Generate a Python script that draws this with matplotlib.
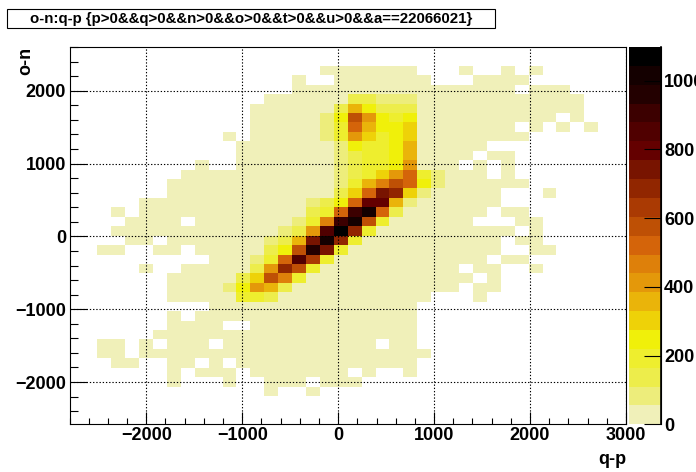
#!/usr/bin/env python3
import numpy as np
import matplotlib
matplotlib.use('Agg')
import matplotlib.pyplot as plt
from matplotlib.colors import ListedColormap, BoundaryNorm
from matplotlib.patches import Rectangle
from matplotlib.ticker import MultipleLocator, FixedLocator

plt.rcParams['font.family'] = ['Liberation Sans', 'DejaVu Sans']
plt.rcParams['font.weight'] = 'bold'

W, H = 696, 472

title = 'o-n:q-p {p>0&&q>0&&n>0&&o>0&&t>0&&u>0&&a==22066021}'
x_range = [-2800, 3000]
y_range = [-2580, 2600]
n_bins = 40
z_max = 1098
n_levels = 20
x_ticks = [-2000, -1000, 0, 1000, 2000, 3000]
y_ticks = [-2000, -1000, 0, 1000, 2000]
z_ticks = [0, 200, 400, 600, 800, 1000]

counts_top_down = [
 [0,0,0,0,0,0,0,0,0,0, 0,0,0,0,0,0,0,0,0,0, 0,0,0,0,0,0,0,0,0,0, 0,0,0,0,0,0,0,0,0,0],
 [0,0,0,0,0,0,0,0,0,0, 0,0,0,0,0,0,0,0,0,0, 0,0,0,0,0,0,0,0,0,0, 0,0,0,0,0,0,0,0,0,0],
 [0,0,0,0,0,0,0,0,0,0, 0,0,0,0,0,0,0,0,25,25, 25,25,25,25,25,0,0,0,25,0, 0,25,0,25,0,0,0,0,0,0],
 [0,0,0,0,0,0,0,0,0,0, 0,0,0,0,0,0,25,0,0,25, 25,25,25,25,25,25,0,0,0,25, 25,25,25,0,0,0,0,0,0,0],
 [0,0,0,0,0,0,0,0,0,0, 0,0,0,0,0,0,25,25,25,25, 25,25,25,25,25,25,25,25,25,25, 25,25,0,25,25,25,0,0,0,0],
 [0,0,0,0,0,0,0,0,0,0, 0,0,0,0,25,25,25,25,25,25, 137,137,82,82,82,25,25,25,25,25, 25,25,25,25,25,25,25,0,0,0],
 [0,0,0,0,0,0,0,0,0,0, 0,0,0,25,25,25,25,25,25,137, 357,247,137,137,137,25,25,25,25,25, 25,25,25,25,25,25,25,0,0,0],
 [0,0,0,0,0,0,0,0,0,0, 0,0,0,25,25,25,25,25,82,247, 576,412,247,192,247,25,25,25,25,25, 25,25,25,25,25,0,25,0,0,0],
 [0,0,0,0,0,0,0,0,0,0, 0,0,0,25,25,25,25,25,82,192, 522,357,247,247,302,25,25,25,25,25, 25,25,0,25,0,25,0,25,0,0],
 [0,0,0,0,0,0,0,0,0,0, 0,25,0,25,25,25,25,25,82,192, 412,302,192,247,302,25,25,25,25,25, 25,25,25,0,0,0,0,0,0,0],
 [0,0,0,0,0,0,0,0,0,0, 0,0,25,25,25,25,25,25,25,82, 247,192,192,247,357,25,25,25,25,25, 0,0,0,0,0,0,0,0,0,0],
 [0,0,0,0,0,0,0,0,0,0, 0,0,25,25,25,25,25,25,25,82, 137,192,192,247,357,25,25,25,25,0, 25,25,0,0,0,0,0,0,0,0],
 [0,0,0,0,0,0,0,0,0,25, 0,0,25,25,25,25,25,25,25,82, 137,192,192,247,412,25,25,25,0,25, 0,25,0,0,0,0,0,0,0,0],
 [0,0,0,0,0,0,0,0,25,25, 25,25,25,25,25,25,25,25,25,82, 137,192,302,412,522,192,82,25,25,25, 0,25,0,0,0,0,0,0,0,0],
 [0,0,0,0,0,0,0,25,25,25, 25,25,25,25,25,25,25,25,25,82, 192,357,467,576,522,247,82,25,25,25, 25,25,25,0,0,0,0,0,0,0],
 [0,0,0,0,0,0,0,25,25,25, 25,25,25,25,25,25,25,25,25,137, 302,522,741,686,302,82,25,25,25,25, 25,0,0,0,25,0,0,0,0,0],
 [0,0,0,0,0,25,25,25,25,25, 25,25,25,25,25,25,25,82,137,247, 522,796,796,357,82,25,25,25,25,25, 25,0,0,0,0,0,0,0,0,0],
 [0,0,0,25,0,25,25,25,25,25, 25,25,25,25,25,25,25,137,192,522, 906,1016,522,137,25,25,25,25,25,25, 0,25,25,0,0,0,0,0,0,0],
 [0,0,0,0,25,25,25,25,0,25, 25,25,25,25,25,25,82,192,467,906, 1016,576,192,25,25,25,25,25,25,0, 0,0,25,25,0,0,0,0,0,0],
 [0,0,0,25,25,25,25,25,25,25, 25,25,25,25,25,82,137,412,851,1071, 686,192,25,25,25,25,25,25,25,25, 25,25,0,25,0,0,0,0,0,0],
 [0,0,0,0,25,25,0,25,25,25, 25,25,25,25,82,137,357,741,1016,686, 192,25,25,25,25,25,25,25,25,25, 25,0,25,25,0,0,0,0,0,0],
 [0,0,25,25,0,0,25,25,0,25, 25,25,25,25,137,247,576,961,741,192, 25,25,25,25,25,25,25,25,25,25, 25,0,0,25,25,0,0,0,0,0],
 [0,0,0,0,0,0,0,0,0,0, 25,25,25,82,192,522,851,631,192,25, 25,25,25,25,25,25,25,25,25,25, 0,25,25,0,0,0,0,0,0,0],
 [0,0,0,0,0,25,0,0,25,25, 25,25,25,137,412,686,576,192,25,25, 25,25,25,25,25,25,25,25,0,25, 25,0,0,25,0,0,0,0,0,0],
 [0,0,0,0,0,0,0,25,25,25, 25,25,137,302,576,467,192,25,25,25, 25,25,25,25,25,25,25,25,25,0, 25,0,0,0,0,0,0,0,0,0],
 [0,0,0,0,0,0,0,25,25,25, 25,82,247,412,357,137,25,25,25,25, 25,25,25,25,25,25,25,25,0,25, 25,0,0,0,0,0,0,0,0,0],
 [0,0,0,0,0,0,0,25,25,25, 25,25,192,192,137,25,25,25,25,25, 25,25,25,25,25,25,0,0,0,25, 0,0,0,0,0,0,0,0,0,0],
 [0,0,0,0,0,0,0,0,0,0, 25,25,25,25,25,25,25,25,25,25, 25,25,25,25,25,0,0,0,0,0, 0,0,0,0,0,0,0,0,0,0],
 [0,0,0,0,0,0,0,25,0,25, 25,25,25,25,25,25,25,25,25,25, 25,25,25,25,25,0,0,0,0,0, 0,0,0,0,0,0,0,0,0,0],
 [0,0,0,0,0,0,0,25,25,25, 25,0,0,25,25,25,25,25,25,25, 25,25,25,25,25,0,0,0,0,0, 0,0,0,0,0,0,0,0,0,0],
 [0,0,0,0,0,0,25,25,25,25, 25,25,25,25,25,25,25,25,25,25, 25,25,25,25,25,0,0,0,0,0, 0,0,0,0,0,0,0,0,0,0],
 [0,0,25,25,0,25,0,25,25,25, 0,25,25,25,25,25,25,25,25,25, 25,25,0,25,25,0,0,0,0,0, 0,0,0,0,0,0,0,0,0,0],
 [0,0,25,25,0,25,25,25,25,25, 25,25,25,25,25,25,25,25,25,25, 25,25,25,25,25,25,0,0,0,0, 0,0,0,0,0,0,0,0,0,0],
 [0,0,0,25,25,0,0,25,25,0, 25,0,25,25,25,25,25,25,25,25, 25,25,25,25,25,0,0,0,0,0, 0,0,0,0,0,0,0,0,0,0],
 [0,0,0,0,0,0,0,25,0,25, 25,25,0,25,25,25,25,25,25,25, 0,25,0,0,25,0,0,0,0,0, 0,0,0,0,0,0,0,0,0,0],
 [0,0,0,0,0,0,0,25,0,0, 0,25,0,0,25,25,25,0,25,25, 25,0,0,0,0,0,0,0,0,0, 0,0,0,0,0,0,0,0,0,0],
 [0,0,0,0,0,0,0,0,0,0, 0,0,0,0,25,0,0,25,0,0, 0,0,0,0,0,0,0,0,0,0, 0,0,0,0,0,0,0,0,0,0],
 [0,0,0,0,0,0,0,0,0,0, 0,0,0,0,0,0,0,0,0,0, 0,0,0,0,0,0,0,0,0,0, 0,0,0,0,0,0,0,0,0,0],
 [0,0,0,0,0,0,0,0,0,0, 0,0,0,0,0,0,0,0,0,0, 0,0,0,0,0,0,0,0,0,0, 0,0,0,0,0,0,0,0,0,0],
 [0,0,0,0,0,0,0,0,0,0, 0,0,0,0,0,0,0,0,0,0, 0,0,0,0,0,0,0,0,0,0, 0,0,0,0,0,0,0,0,0,0],
]

band_colors = ['#f0f0b9', '#eded7b', '#eded4b', '#eeee2e', '#f0f00a',
               '#eed208', '#eab40a', '#e4980a', '#de800a', '#d4640a',
               '#be5005', '#aa3a03', '#912600', '#781400', '#640000',
               '#500000', '#3c0000', '#230000', '#140000', '#000000']

counts = np.array(counts_top_down, dtype=float)[::-1]
counts = np.ma.masked_equal(counts, 0)
x_edges = np.linspace(x_range[0], x_range[1], n_bins + 1)
y_edges = np.linspace(y_range[0], y_range[1], n_bins + 1)

cmap = ListedColormap(band_colors)
z_edges = np.linspace(0, z_max, n_levels + 1)
norm = BoundaryNorm(z_edges, cmap.N)


def px_rect(x0, y0, x1, y1):
    return [x0 / W, 1 - y1 / H, (x1 - x0) / W, (y1 - y0) / H]


fig = plt.figure(figsize=(W / 100, H / 100), dpi=100)
ax = fig.add_axes(px_rect(69.5, 47, 626, 424.3))
cax = fig.add_axes(px_rect(629, 47, 661.3, 424.3))

mesh = ax.pcolormesh(x_edges, y_edges, counts, cmap=cmap, norm=norm,
                     antialiased=False, linewidth=0)

ax.set_xlim(x_range)
ax.set_ylim(y_range)
ax.spines[:].set_linewidth(0.8)
ax.xaxis.set_major_locator(FixedLocator(x_ticks))
ax.xaxis.set_minor_locator(MultipleLocator(200))
ax.yaxis.set_major_locator(FixedLocator(y_ticks))
ax.yaxis.set_minor_locator(MultipleLocator(200))
ax.tick_params(axis='x', which='major', direction='in', length=8.3, width=0.8,
               labelsize=13, pad=2)
ax.tick_params(axis='x', which='minor', direction='in', length=4, width=0.8)
ax.tick_params(axis='y', which='major', direction='in', length=12.5, width=0.8,
               labelsize=13, pad=2.5)
ax.tick_params(axis='y', which='minor', direction='in', length=6, width=0.8)
ax.set_axisbelow(False)
ax.grid(True, which='major', color='black', linewidth=0.8,
        linestyle=(0, (1.2, 1.7)))

fig.text(626 / W, 1 - 460 / H, 'q-p', fontsize=13, ha='right', va='center')
fig.text(26 / W, 1 - 47 / H, 'o-n', fontsize=13, rotation=90,
         ha='center', va='top')

cbar = fig.colorbar(mesh, cax=cax, ticks=z_ticks, spacing='proportional')
cbar.outline.set_visible(False)
cax.spines['right'].set_visible(True)
cax.minorticks_off()
cax.tick_params(axis='y', which='major', direction='in', length=12.5, width=0.8,
                labelsize=13, pad=2)
cax.plot([1, 1], [0, z_max], color='black', lw=1.2, clip_on=False,
         transform=cax.get_yaxis_transform())

fig.add_artist(Rectangle((7 / W, 1 - 28 / H), 488 / W, 19 / H, fill=False,
                         edgecolor='black', linewidth=0.8,
                         transform=fig.transFigure))
fig.text(251 / W, 1 - 18.5 / H, title, fontsize=10.8, ha='center', va='center')

fig.savefig('out.png', dpi=100)
plt.close(fig)
